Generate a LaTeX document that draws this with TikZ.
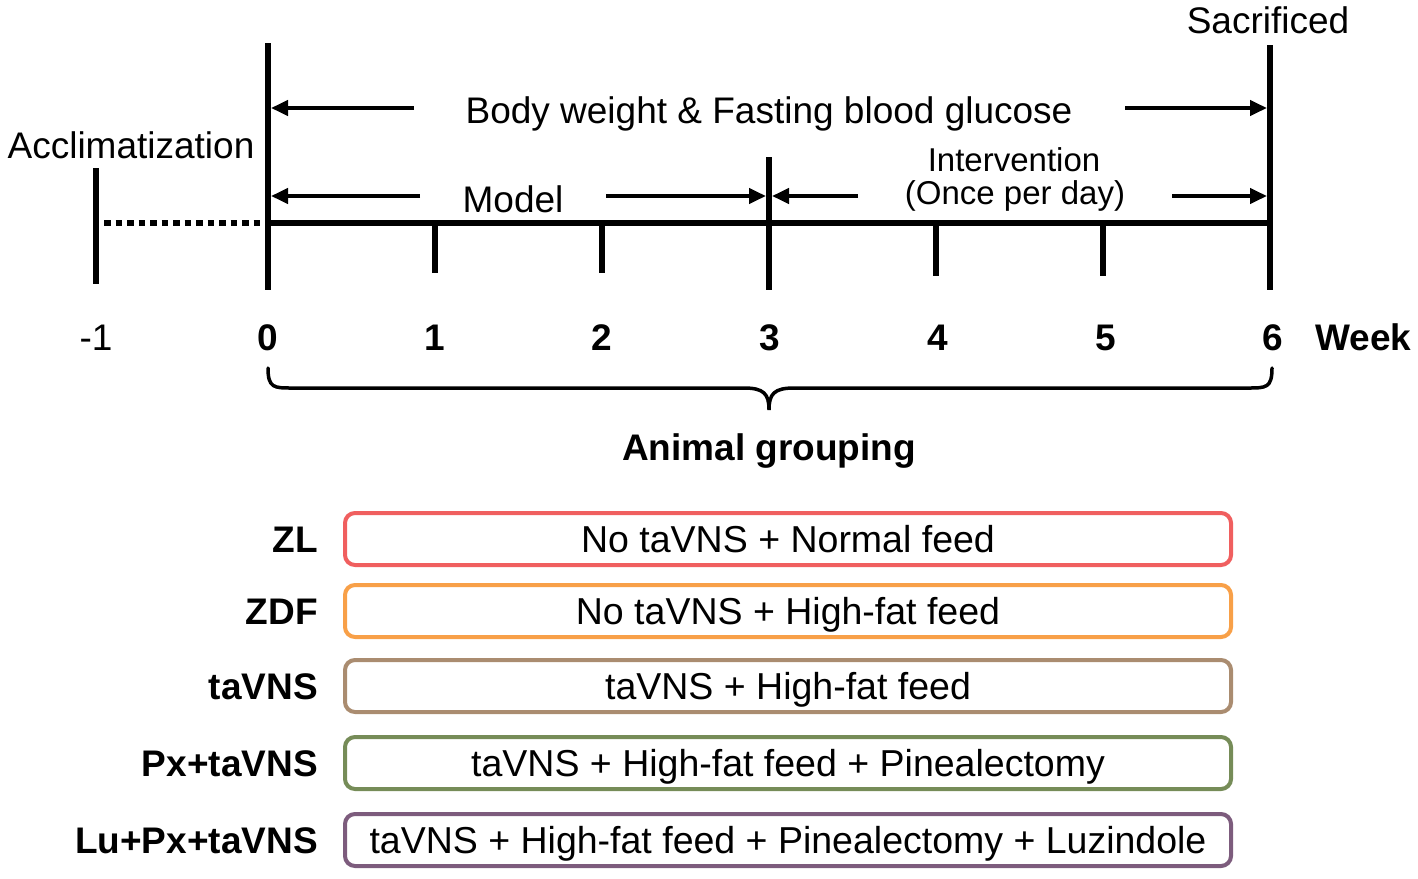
\documentclass[tikz,border=0pt]{standalone}
\usepackage{fontspec}
\setmainfont{Liberation Sans}
\usetikzlibrary{arrows.meta}
\definecolor{cZL}{HTML}{F05F5F}
\definecolor{cZDF}{HTML}{F8A048}
\definecolor{cTA}{HTML}{AA8C70}
\definecolor{cPX}{HTML}{768C58}
\definecolor{cLU}{HTML}{7D5C7D}
\begin{document}
\begin{tikzpicture}[x=1pt,y=-1pt,
  every node/.style={inner sep=0pt},
  axisline/.style={line width=6pt},
  tickline/.style={line width=6pt},
  dotline/.style={line width=6pt, dash pattern=on 6.5pt off 5pt},
  spanarrow/.style={line width=4pt, -{Triangle[length=17pt,width=15pt]}},
  bracepath/.style={line width=3.5pt, line cap=round},
  lbl/.style={anchor=base, font=\fontsize{37}{44}\selectfont},
  smalllbl/.style={anchor=base, font=\fontsize{33}{38}\selectfont},
  num/.style={anchor=base, font=\fontsize{37}{44}\selectfont\bfseries},
  grp/.style={anchor=base east, font=\fontsize{37}{44}\selectfont\bfseries},
  gbox/.style={draw, line width=4pt, rounded corners=10pt, minimum width=886pt,
    minimum height=52pt, text height=26.5pt, text depth=0pt, inner sep=0pt,
    font=\fontsize{37.5}{44}\selectfont},
]
\useasboundingbox (0,0) rectangle (1418,878);

% tick coordinates
\coordinate (tm1top) at (96,168);  \coordinate (tm1bot) at (96,284);
\coordinate (t0top) at (268,43);   \coordinate (t0bot) at (268,290);
\coordinate (t1top) at (435,223);  \coordinate (t1bot) at (435,273);
\coordinate (t2top) at (602,223);  \coordinate (t2bot) at (602,273);
\coordinate (t3top) at (769,157);  \coordinate (t3bot) at (769,290);
\coordinate (t4top) at (936,223);  \coordinate (t4bot) at (936,276);
\coordinate (t5top) at (1103,223); \coordinate (t5bot) at (1103,276);
\coordinate (t6top) at (1270,45);  \coordinate (t6bot) at (1270,290);
\coordinate (ax0) at (268,223);
\coordinate (ax6) at (1270,223);
\coordinate (dotstart) at (104,223);

% axis
\draw[dotline] (dotstart) -- (ax0);
\draw[axisline] (ax0) -- (ax6);
\foreach \t in {m1,0,1,2,3,4,5,6}{\draw[tickline] (t\t top) -- (t\t bot);}

% span arrows
\coordinate (bwLs) at (414,108);  \coordinate (bwLe) at (271,108);
\coordinate (bwRs) at (1125,108); \coordinate (bwRe) at (1267,108);
\coordinate (mLs) at (420,196);   \coordinate (mLe) at (271,196);
\coordinate (mRs) at (606,196);   \coordinate (mRe) at (766,196);
\coordinate (iLs) at (858,196);   \coordinate (iLe) at (772,196);
\coordinate (iRs) at (1172,196);  \coordinate (iRe) at (1267,196);
\draw[spanarrow] (bwLs) -- (bwLe);
\draw[spanarrow] (bwRs) -- (bwRe);
\draw[spanarrow] (mLs) -- (mLe);
\draw[spanarrow] (mRs) -- (mRe);
\draw[spanarrow] (iLs) -- (iLe);
\draw[spanarrow] (iRs) -- (iRe);

% texts
\node[lbl] (bw) at (769,123) {Body weight \& Fasting blood glucose};
\node[lbl] (model) at (513,212) {Model};
\node[smalllbl] (interv) at (1014,171) {Intervention};
\node[smalllbl] (once) at (1015,204) {(Once per day)};
\node[lbl] (accl) at (131,158) {Acclimatization};
\node[lbl] (sacr) at (1268,33) {Sacrificed};

% week numbers
\node[lbl] (nm1) at (96,350) {-1};
\node[num] (n0) at (268,350) {0};
\node[num] (n1) at (435,350) {1};
\node[num] (n2) at (602,350) {2};
\node[num] (n3) at (770,350) {3};
\node[num] (n4) at (938,350) {4};
\node[num] (n5) at (1106,350) {5};
\node[num] (n6) at (1273,350) {6};
\node[num, anchor=base west] (week) at (1315,350) {Week};

% brace
\coordinate (brL) at (268,368);
\coordinate (brR) at (1272,368);
\coordinate (brTip) at (769,410);
\draw[bracepath] (brL) .. controls (268,388) and (274,388) .. (292,388)
  -- (744,388) .. controls (764,388) and (769,394) .. (brTip)
  .. controls (769,394) and (774,388) .. (794,388)
  -- (1248,388) .. controls (1266,388) and (1272,388) .. (brR);
\node[num] (animal) at (769,460) {Animal grouping};

% groups
\node[gbox, draw=cZL] (bZL) at (788,539) {No taVNS + Normal feed};
\node[gbox, draw=cZDF] (bZDF) at (788,611) {No taVNS + High-fat feed};
\node[gbox, draw=cTA] (bTA) at (788,686) {taVNS + High-fat feed};
\node[gbox, draw=cPX] (bPX) at (788,763) {taVNS + High-fat feed + Pinealectomy};
\node[gbox, draw=cLU] (bLU) at (788,840) {taVNS + High-fat feed + Pinealectomy + Luzindole};

\node[grp] (gZL) at (318,552) {ZL};
\node[grp] (gZDF) at (318,624) {ZDF};
\node[grp] (gTA) at (318,699) {taVNS};
\node[grp] (gPX) at (318,776) {Px+taVNS};
\node[grp] (gLU) at (318,853) {Lu+Px+taVNS};
\end{tikzpicture}
\end{document}
